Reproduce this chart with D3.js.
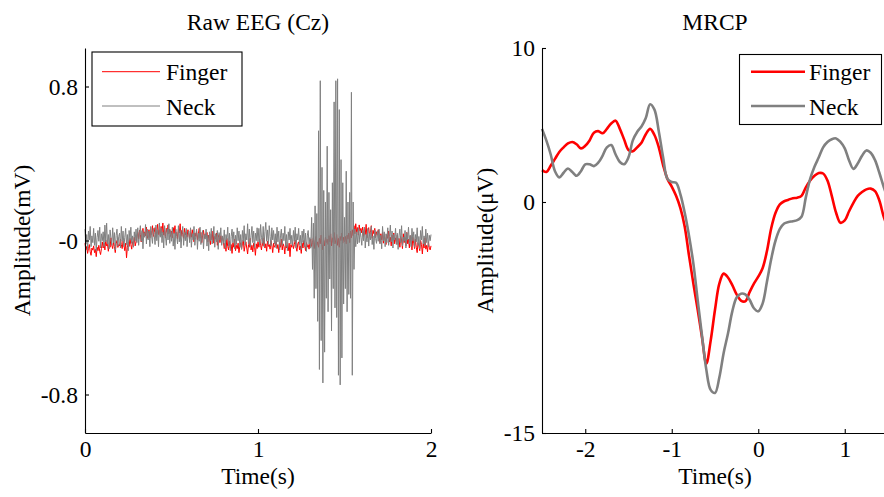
<!DOCTYPE html>
<html>
<head>
<meta charset="utf-8">
<script src="https://cdn.jsdelivr.net/npm/d3@7"></script>
<style>
  html, body { margin: 0; padding: 0; background: #fff; }
  svg { display: block; font-family: "Liberation Serif", "Times New Roman", serif; }
</style>
</head>
<body>
<svg id="chart" width="884" height="497"></svg>
<script>
// ---------- Raw EEG at Cz: 200 Hz samples over 0–2 s, values in µV ----------
const rawRate = 200;
const rawFinger = [
  -14,-49,-31,-67,-42,-21,-59,-77,-39,-50,-28,-63,-46,-84,-35,-53,-25,-56,-73,-42,
  -7,-39,-14,-49,3,-28,-20,-56,-11,-35,14,-25,-42,-8,-31,-63,-17,0,-36,-21,
  -28,7,-21,-42,-3,-25,-53,-14,-90,-35,-7,-31,11,-21,-45,-6,-17,17,-28,-8,
  21,42,7,53,31,-7,39,63,17,45,25,70,11,35,56,14,49,28,77,21,
  42,67,17,49,84,31,56,25,73,39,91,28,53,14,63,42,81,35,59,21,
  49,14,67,35,77,25,42,7,59,39,87,21,53,31,11,63,28,46,17,56,
  35,7,45,17,56,25,-7,39,21,49,3,31,63,14,42,-11,28,53,11,35,
  17,42,-7,28,11,-21,35,3,49,-14,21,7,39,-25,14,31,-11,25,0,17,
  -7,-42,-14,-56,11,-31,-49,-3,-39,-21,-67,-11,-35,7,-53,-25,-42,-14,-63,-28,
  -11,-45,-17,3,-56,-28,-7,-39,-70,-21,-35,11,-49,-25,-59,-14,-31,-77,-17,-42,
  -7,-35,7,-25,-49,-11,-28,14,-39,-17,-56,-3,-31,-21,-45,0,-25,-63,-14,-35,
  -28,-3,-42,-21,-63,-11,-35,7,-49,-17,-31,-70,-7,-39,-25,-53,-14,-84,-21,-35,
  -11,-42,-21,3,-35,-56,-17,-7,-49,-28,-67,-14,-39,0,-25,-53,-11,-35,-21,-45,
  -14,7,-31,-11,14,-42,-3,21,-25,-7,-35,11,-17,28,-21,-49,0,-28,17,-11,
  7,-21,25,-7,35,-28,14,-11,42,-17,3,31,-25,11,-35,21,0,39,-14,17,
  -7,21,-17,28,7,39,-11,49,14,56,25,77,35,87,42,67,28,81,49,63,
  39,70,21,59,31,84,14,49,67,25,42,77,11,53,35,63,17,45,28,56,
  21,-11,35,3,42,-14,25,7,-21,31,11,49,-7,17,-28,28,0,39,-17,14,
  -7,28,-21,11,-35,21,3,-42,35,-11,14,-28,42,-17,7,-39,25,-3,-49,17,
  -14,-42,7,-35,-63,-11,-28,-53,0,-21,-70,-17,-39,14,-45,-25,-59,-7,-35,-49,-28
];
const rawNeck = [
  59,-18,31,-46,49,3,73,-32,24,-11,63,-25,38,-53,17,52,-4,69,-39,35,
  -1,45,-32,80,-7,90,-18,31,-43,55,10,-25,66,-11,41,-49,27,59,-29,21,
  38,-39,73,-4,49,-32,17,63,-21,31,-53,52,3,69,-15,24,-35,45,-1,59,
  -11,66,-25,35,77,-4,52,-43,41,17,83,-18,59,3,49,-32,73,24,-15,63,
  31,-21,80,-1,55,-32,91,17,66,-11,45,-39,77,27,-25,60,3,87,-15,52,
  -4,69,-29,38,-46,59,21,-18,77,-7,52,-39,31,73,-25,41,-1,63,-32,27,
  49,-11,66,-35,35,3,73,-25,24,59,-46,38,-4,69,-21,21,52,-43,31,7,
  59,-29,27,-53,45,-1,63,-18,17,73,-35,35,-7,52,-46,41,3,66,-25,24,
  -15,55,-39,31,3,69,-29,38,-53,21,59,-11,45,-43,27,-21,66,-1,49,-35,
  31,-46,52,-4,77,-25,35,3,87,-18,59,-32,24,73,-11,49,-39,38,-1,66,
  -7,63,-25,83,17,-15,73,-32,45,94,-4,55,-21,77,21,-29,66,3,52,-18,
  35,-39,69,-7,49,-49,24,59,-25,38,-1,73,-32,31,-53,45,3,63,-18,27,
  -29,52,-4,69,-39,35,3,63,-21,27,-46,49,-11,59,-32,38,-57,24,52,-18,
  15,-40,120,-150,90,-300,180,-250,140,-420,570,-670,830,-520,380,-740,260,-580,200,-300,
  490,-370,250,-200,160,-470,300,-250,720,-350,830,-400,840,-700,680,-750,420,-610,300,-330,
  120,-250,360,-370,200,-280,250,-300,770,-700,200,-150,60,-32,45,-18,66,-11,52,17,
  -25,52,-1,69,-39,31,-7,63,-29,38,3,73,-21,24,-46,55,10,-15,49,-4,
  59,-18,27,-43,73,-1,45,-32,35,-11,66,-25,21,80,-7,49,-39,31,3,63,
  -21,38,-46,24,59,-11,77,-29,17,-4,52,-39,41,3,69,-18,27,-32,63,-1,
  45,-35,31,-7,66,-25,21,-43,52,3,73,-18,24,-29,59,-11,38,-32,27,-1,31
];
const rawXTicks = [0, 1, 2];
const rawYTicks = [-0.8, 0, 0.8];
const rawYTickLabels = ["-0.8", "-0", "0.8"];

// ---------- MRCP grand averages (µV) ----------
const mrcpTime = [
  -2.50,-2.45,-2.40,-2.35,-2.30,-2.25,-2.20,-2.15,-2.10,-2.05,
  -2.00,-1.95,-1.90,-1.85,-1.80,-1.75,-1.70,-1.65,-1.60,-1.55,
  -1.50,-1.45,-1.40,-1.35,-1.30,-1.25,-1.20,-1.15,-1.10,-1.05,
  -1.00,-0.95,-0.90,-0.85,-0.80,-0.75,-0.70,-0.65,-0.60,-0.55,
  -0.50,-0.45,-0.40,-0.35,-0.30,-0.25,-0.20,-0.15,-0.10,-0.05,
   0.00, 0.05, 0.10, 0.15, 0.20, 0.25, 0.30, 0.35, 0.40, 0.45,
   0.50, 0.55, 0.60, 0.65, 0.70, 0.75, 0.80, 0.85, 0.90, 0.95,
   1.00, 1.05, 1.10, 1.15, 1.20, 1.25, 1.30, 1.35, 1.40, 1.45,
   1.50
];
const mrcpFinger = [
   2.07, 1.95, 2.35, 2.80, 3.25, 3.55, 3.80, 3.90, 3.75, 3.48,
   3.65, 4.00, 4.50, 4.60, 4.46, 4.75, 5.10, 5.28, 4.75, 4.05,
   3.37, 3.30, 3.55, 3.85, 4.40, 4.75, 4.35, 3.55, 2.40, 1.50,
   1.00, 0.40,-0.40,-1.60,-3.50,-5.30,-7.00,-8.80,-10.50,-9.00,
  -7.00,-5.30,-4.65,-4.90,-5.40,-6.00,-6.40,-6.45,-5.85,-5.30,
  -4.85,-4.30,-3.20,-1.70,-0.70,-0.15, 0.05, 0.15, 0.25, 0.28,
   0.40, 0.95, 1.40, 1.70, 1.88, 1.85, 1.40, 0.40,-0.70,-1.35,
  -1.20,-0.60,-0.05, 0.40, 0.65, 0.82, 0.87, 0.70, 0.10,-0.95,
  -1.70
];
const mrcpNeck = [
   4.75, 4.00, 3.10, 2.00, 1.60, 1.90, 2.18, 1.95, 1.70, 2.00,
   2.45, 2.45, 2.33, 2.55, 3.00, 3.55, 3.70, 3.10, 2.60, 2.45,
   2.90, 4.00, 4.55, 4.90, 5.45, 6.35, 6.00, 4.60, 2.90, 1.50,
   1.30, 1.25, 0.50,-0.70,-2.20,-4.00,-6.37,-8.70,-10.90,-12.20,
  -12.40,-11.40,-9.80,-8.54,-7.10,-6.20,-5.95,-6.00,-6.35,-6.90,
  -7.10,-6.60,-5.20,-3.70,-2.50,-1.75,-1.40,-1.30,-1.25,-1.18,
  -0.96, 0.30, 1.50, 2.29, 2.90, 3.55, 3.90, 4.08, 4.13, 3.90,
   3.48, 2.70, 2.15, 2.50, 3.00, 3.35, 3.20, 2.72, 1.90, 0.99,
   0.20
];
const mrcpXTicks = [-2, -1, 0, 1];
const mrcpYTicks = [-15, 0, 10];

const seriesNames = ["Finger", "Neck"];
const seriesColors = ["#ff0000", "#808080"];

// ---------- drawing ----------
const svg = d3.select("#chart");
const fontSize = 23.5;
const plotTop = 48, plotBottom = 433;
const plainNumber = d => String(d);   // keeps an ASCII hyphen for negatives

function drawAxes(g, x, y, xTicks, yTicks, yFormat) {
  const ax = g.append("g")
    .attr("transform", `translate(0,${plotBottom})`)
    .call(d3.axisBottom(x).tickValues(xTicks).tickSizeInner(-4).tickSizeOuter(0)
      .tickPadding(7).tickFormat(plainNumber));
  const ay = g.append("g")
    .attr("transform", `translate(${x.range()[0]},0)`)
    .call(d3.axisLeft(y).tickValues(yTicks).tickSizeInner(-4).tickSizeOuter(0)
      .tickPadding(7).tickFormat(yFormat));
  [ax, ay].forEach(a => {
    a.selectAll("path.domain").attr("stroke", "#000").attr("stroke-width", 1.1);
    a.selectAll(".tick line").attr("stroke", "#000").attr("stroke-width", 1.1);
    a.selectAll("text").attr("fill", "#000")
      .style("font-family", '"Liberation Serif", "Times New Roman", serif')
      .style("font-size", fontSize + "px");
  });
}

function drawTexts(g, x, title, yLabel, yLabelX) {
  const cx = (x.range()[0] + x.range()[1]) / 2;
  g.append("text").attr("x", cx).attr("y", 30).attr("text-anchor", "middle")
    .style("font-size", fontSize + "px").text(title);
  g.append("text").attr("x", cx).attr("y", 484).attr("text-anchor", "middle")
    .style("font-size", fontSize + "px").text("Time(s)");
  g.append("text")
    .attr("transform", `translate(${yLabelX},${(plotTop + plotBottom) / 2}) rotate(-90)`)
    .attr("text-anchor", "middle")
    .style("font-size", fontSize + "px").text(yLabel);
}

function drawLegend(g, box, lineX0, lineX1, textX, rowsY, lineWidth) {
  g.append("rect").attr("x", box[0]).attr("y", box[1])
    .attr("width", box[2]).attr("height", box[3])
    .attr("fill", "#fff").attr("stroke", "#000").attr("stroke-width", 1.1);
  seriesNames.forEach((name, i) => {
    g.append("line").attr("x1", lineX0).attr("x2", lineX1)
      .attr("y1", rowsY[i]).attr("y2", rowsY[i])
      .attr("stroke", seriesColors[i]).attr("stroke-width", lineWidth);
    g.append("text").attr("x", textX).attr("y", rowsY[i] + 8.5)
      .style("font-size", fontSize + "px").text(name);
  });
}

// Left: raw EEG
{
  const g = svg.append("g");
  const x = d3.scaleLinear().domain([0, 2]).range([85, 431]);
  const y = d3.scaleLinear().domain([-1, 1]).range([plotBottom, plotTop]);
  const line = d3.line().x((d, i) => x(i / rawRate)).y(d => y(d / 1000));
  [rawFinger, rawNeck].forEach((s, k) => {
    g.append("path").datum(s).attr("d", line)
      .attr("fill", "none").attr("stroke", seriesColors[k]).attr("stroke-width", 1);
  });
  drawAxes(g, x, y, rawXTicks, rawYTicks, d => rawYTickLabels[rawYTicks.indexOf(d)]);
  drawTexts(g, x, "Raw EEG (Cz)", "Amplitude(mV)", 30);
  drawLegend(g, [92, 52, 150, 74], 102, 160, 166, [71.7, 106], 1);
}

// Right: MRCP
{
  const g = svg.append("g");
  const x = d3.scaleLinear().domain([-2.5, 1.5]).range([542, 888]);
  const y = d3.scaleLinear().domain([-15, 10]).range([plotBottom, plotTop]);
  const line = d3.line().x((d, i) => x(mrcpTime[i])).y(d => y(d))
    .curve(d3.curveCatmullRom.alpha(0.5));
  [mrcpFinger, mrcpNeck].forEach((s, k) => {
    g.append("path").datum(s).attr("d", line)
      .attr("fill", "none").attr("stroke", seriesColors[k]).attr("stroke-width", 2.6);
  });
  drawAxes(g, x, y, mrcpXTicks, mrcpYTicks, plainNumber);
  drawTexts(g, x, "MRCP", "Amplitude(μV)", 493);
  drawLegend(g, [739.5, 54.5, 142, 70], 751, 805, 809, [71.7, 106], 2.6);
}
</script>
</body>
</html>
